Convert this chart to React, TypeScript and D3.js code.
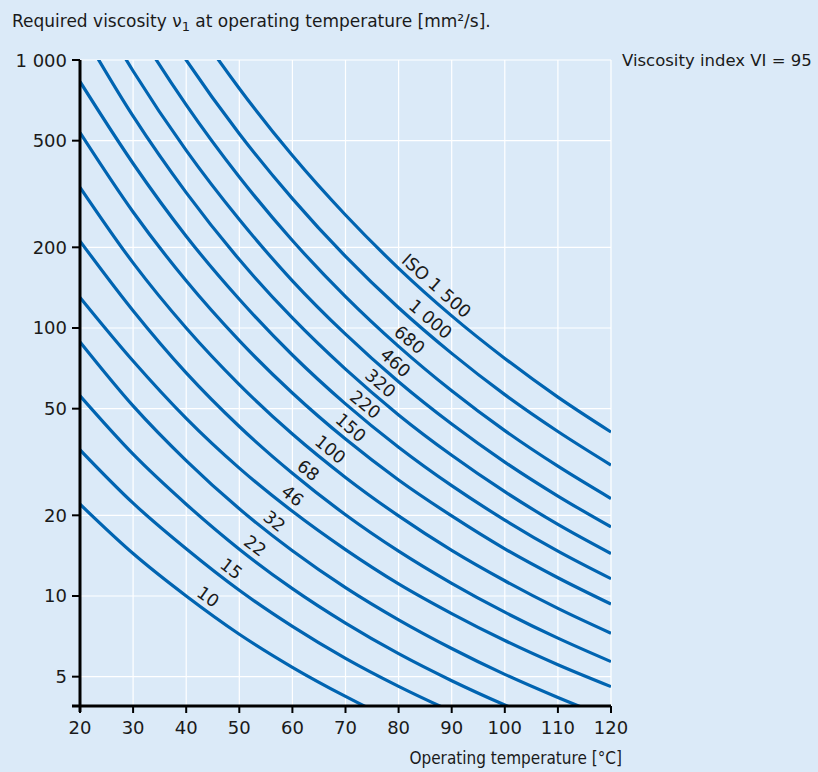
import React from "react";
import * as d3 from "d3";

// Temperatures (°C) at which each curve was read
const temps = [20, 30, 40, 50, 60, 70, 80, 90, 100, 110, 120];

// ISO VG grades and their labels
const grades = [10, 15, 22, 32, 46, 68, 100, 150, 220, 320, 460, 680, 1000, 1500];
const gradeLabels = ["10", "15", "22", "32", "46", "68", "100", "150", "220", "320", "460", "680", "1 000", "ISO 1 500"];
// Temperature where each label sits along its curve
const labelTemps = [42.8, 47.1, 51.6, 55.2, 58.6, 61.6, 65.7, 69.5, 72.3, 75.1, 77.9, 80.6, 84.5, 85.6];

// Viscosity (mm²/s) read at temps for each grade
const vg10 = [22.0, 14.4, 10, 7.2, 5.42, 4.22, 3.37, 2.76, 2.3, 1.95, 1.68];
const vg15 = [35.1, 22.2, 15, 10.5, 7.7, 5.85, 4.6, 3.71, 3.05, 2.56, 2.19];
const vg22 = [55.8, 33.8, 22, 14.95, 10.65, 7.92, 6.09, 4.83, 3.92, 3.24, 2.74];
const vg32 = [88.7, 51.2, 32, 21.15, 14.75, 10.75, 8.15, 6.37, 5.1, 4.18, 3.48];
const vg46 = [130, 75.3, 46, 30.0, 20.7, 14.9, 11.1, 8.6, 6.82, 5.54, 4.59];
const vg68 = [211, 116, 68, 42.9, 28.7, 20.1, 14.7, 11.15, 8.7, 6.96, 5.69];
const vg100 = [335, 175, 100, 61.5, 40.2, 27.7, 19.9, 14.8, 11.4, 8.99, 7.26];
const vg150 = [536, 271, 150, 89.7, 57.2, 38.5, 27.1, 19.9, 15.0, 11.7, 9.33];
const vg220 = [830, 411, 220, 128, 79.3, 52.1, 35.9, 25.8, 19.2, 14.7, 11.6];
const vg320 = [1315, 617, 320, 180, 109, 70.2, 47.4, 33.5, 24.5, 18.5, 14.4];
const vg460 = [1990, 910, 460, 254, 150, 94.8, 63.0, 43.8, 31.6, 23.6, 18.1];
const vg680 = [3110, 1380, 680, 366, 212, 131, 85.4, 58.3, 41.4, 30.5, 23.1];
const vg1000 = [4670, 2050, 1000, 531, 304, 185, 119, 80.4, 56.4, 41.1, 30.8];
const vg1500 = [7270, 3140, 1500, 783, 440, 264, 167, 111, 77, 55.2, 40.9];

const seriesValues = [vg10, vg15, vg22, vg32, vg46, vg68, vg100, vg150, vg220, vg320, vg460, vg680, vg1000, vg1500];

const yTicks = [5, 10, 20, 50, 100, 200, 500, 1000];
const yTickLabels = ["5", "10", "20", "50", "100", "200", "500", "1 000"];
const xTicks = [20, 30, 40, 50, 60, 70, 80, 90, 100, 110, 120];

const W = 818;
const H = 772;
const BG = "#dbeaf8";
const BLUE = "#0064b1";
const INK = "#1a1a1a";
const SANS = "'DejaVu Sans', 'Liberation Sans', sans-serif";
const COND = "'DejaVu Sans Condensed', 'Liberation Sans Narrow', 'DejaVu Sans', sans-serif";

export default function App() {
  const x = d3.scaleLinear().domain([20, 120]).range([80, 611]);
  const y = d3.scaleLog().domain([3.886, 1000]).range([706, 60]);
  const [x0, x1] = x.range();
  const [yb, yt] = y.range();

  const line = d3
    .line<[number, number]>()
    .x((d) => x(d[0]))
    .y((d) => y(d[1]))
    .curve(d3.curveMonotoneX);

  const labelPos = (vals: number[], t: number) => {
    let i = temps.findIndex((tt, k) => k < temps.length - 1 && t >= tt && t <= temps[k + 1]);
    if (i < 0) i = 0;
    const f = (t - temps[i]) / (temps[i + 1] - temps[i]);
    const lv = Math.log10(vals[i]) * (1 - f) + Math.log10(vals[i + 1]) * f;
    const px = x(t);
    const py = y(Math.pow(10, lv));
    const dx = x(temps[i + 1]) - x(temps[i]);
    const dy = y(vals[i + 1]) - y(vals[i]);
    const ang = Math.atan2(dy, dx);
    const off = 12;
    return {
      cx: px + off * Math.sin(ang),
      cy: py - off * Math.cos(ang),
      deg: (ang * 180) / Math.PI,
    };
  };

  return (
    <div style={{ position: "absolute", left: 0, top: 0, width: W, height: H, background: BG }}>
      <svg width={W} height={H} style={{ display: "block", fontFamily: SANS }}>
        <defs>
          <clipPath id="plotClip">
            <rect x={x0} y={yt} width={x1 - x0} height={yb - yt} />
          </clipPath>
        </defs>
        <rect x={0} y={0} width={W} height={H} fill={BG} />

        {/* grid */}
        {xTicks.map((t) => (
          <line key={"gx" + t} x1={x(t)} x2={x(t)} y1={yt} y2={yb} stroke="#ffffff" strokeWidth={1.2} />
        ))}
        {yTicks.map((v) => (
          <line key={"gy" + v} x1={x0} x2={x1} y1={y(v)} y2={y(v)} stroke="#ffffff" strokeWidth={1.2} />
        ))}

        {/* curves */}
        <g clipPath="url(#plotClip)">
          {seriesValues.map((vals, k) => (
            <path
              key={"c" + grades[k]}
              d={line(temps.map((t, i) => [t, vals[i]] as [number, number])) || ""}
              fill="none"
              stroke={BLUE}
              strokeWidth={3.2}
            />
          ))}
        </g>

        {/* curve labels */}
        {seriesValues.map((vals, k) => {
          const p = labelPos(vals, labelTemps[k]);
          return (
            <text
              key={"l" + grades[k]}
              x={p.cx}
              y={p.cy}
              transform={`rotate(${p.deg} ${p.cx} ${p.cy})`}
              textAnchor="middle"
              dominantBaseline="central"
              fontSize={17.5}
              fill={INK}
            >
              {gradeLabels[k]}
            </text>
          );
        })}

        {/* axes */}
        <line x1={x0} x2={x0} y1={yt} y2={yb + 6} stroke="#000" strokeWidth={3} />
        <line x1={x0 - 8} x2={x1} y1={yb} y2={yb} stroke="#000" strokeWidth={3} />
        {yTicks.map((v, i) => (
          <g key={"yt" + v}>
            <line x1={x0 - 8} x2={x0} y1={y(v)} y2={y(v)} stroke="#000" strokeWidth={2} />
            <text x={x0 - 13} y={y(v)} textAnchor="end" dominantBaseline="central" fontSize={18} fill={INK}>
              {yTickLabels[i]}
            </text>
          </g>
        ))}
        {xTicks.map((t) => (
          <g key={"xt" + t}>
            <line x1={x(t)} x2={x(t)} y1={yb} y2={yb + 7} stroke="#000" strokeWidth={2} />
            <text x={x(t)} y={yb + 28} textAnchor="middle" fontSize={18} fill={INK}>
              {t}
            </text>
          </g>
        ))}

        {/* titles */}
        <text x={12} y={27} fontSize={17} fill={INK}>
          Required viscosity ν<tspan fontSize={13} dy={4}>1</tspan>
          <tspan dy={-4}> at operating temperature [mm²/s].</tspan>
        </text>
        <text x={622} y={66} fontSize={16.5} fill={INK}>
          Viscosity index VI = 95
        </text>
        <text x={622} y={764} textAnchor="end" fontSize={17} fill={INK} style={{ fontFamily: COND }}>
          Operating temperature [°C]
        </text>
      </svg>
    </div>
  );
}
